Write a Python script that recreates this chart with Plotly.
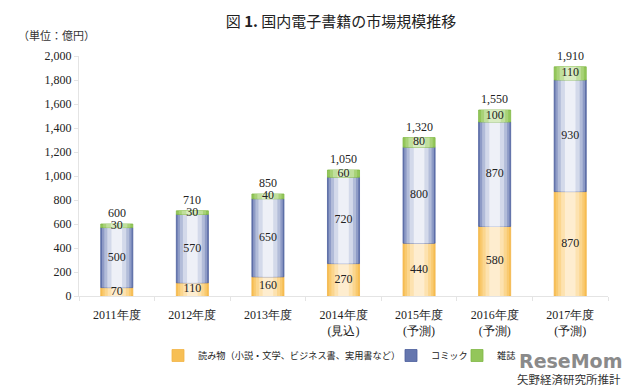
import numpy as np
import plotly.graph_objects as go

categories = ["2011年度", "2012年度", "2013年度", "2014年度<br>(見込)",
              "2015年度<br>(予測)", "2016年度<br>(予測)", "2017年度<br>(予測)"]
yomimono = [70, 110, 160, 270, 440, 580, 870]
comic = [500, 570, 650, 720, 800, 870, 930]
zasshi = [30, 30, 40, 60, 80, 100, 110]
totals = [600, 710, 850, 1050, 1320, 1550, 1910]
series_names = ["読み物（小説・文学、ビジネス書、実用書など）", "コミック", "雑誌"]
y_ticks = [0, 200, 400, 600, 800, 1000, 1200, 1400, 1600, 1800, 2000]

num_font = "Liberation Serif"
cjk_font = "Noto Sans CJK JP"

# gradient layers (outer -> inner): (width in category units, color)
layers = {
    0: ([0.424, 0.38, 0.32, 0.24, 0.14],
        ["#f7bf55", "#f9ca70", "#fbd68e", "#fde2af", "#feedcf"], "#f2b445"),
    1: ([0.424, 0.39, 0.33, 0.25, 0.14],
        ["#6576ae", "#8e9bc6", "#b2bcd9", "#d3d9ea", "#eef0f7"], "#4b5e9c"),
    2: ([0.424, 0.36, 0.28, 0.16],
        ["#93c65a", "#a8d277", "#c0df9c", "#d9ecc2"], "#7fb844"),
}
legend_ids = ["legend", "legend2", "legend3"]
legend_x = [158, 391, 457]

vals = [np.array(yomimono), np.array(comic), np.array(zasshi)]
bases = [np.zeros(7), np.array(yomimono), np.array(yomimono) + np.array(comic)]

fig = go.Figure()
for s in range(3):
    widths, colors, edge = layers[s]
    for i, (w, c) in enumerate(zip(widths, colors)):
        fig.add_trace(go.Bar(
            x=categories, y=vals[s], base=bases[s],
            width=[w] * 7,
            marker=dict(color=c, line=dict(color=edge if i == 0 else c, width=0.8 if i == 0 else 0)),
            name=series_names[s], legendgroup=series_names[s], legend=legend_ids[s],
            showlegend=(i == 0), hoverinfo="skip",
        ))
    fig.add_trace(go.Scatter(
        x=categories, y=bases[s] + vals[s] / 2, mode="text",
        text=[str(v) for v in vals[s]],
        textfont=dict(family=num_font, size=12, color="#222222"),
        showlegend=False, hoverinfo="skip", cliponaxis=False,
    ))

total_annotations = [
    dict(x=c, y=t, xref="x", yref="y", text=f"{t:,}", showarrow=False,
         xanchor="center", yanchor="bottom", yshift=2,
         font=dict(family=num_font, size=12, color="#222222"))
    for c, t in zip(categories, totals)
]

legend_common = dict(orientation="h", xref="container", yref="container",
                     y=1 - 341 / 388, xanchor="left", yanchor="top",
                     font=dict(family=cjk_font, size=9.2, color="#222222"),
                     bgcolor="rgba(0,0,0,0)")

fig.update_layout(
    width=640, height=388,
    margin=dict(l=79, r=32, t=56, b=92, autoexpand=False),
    paper_bgcolor="white", plot_bgcolor="white",
    barmode="overlay",
    title=dict(text="図 <b>1.</b> 国内電子書籍の市場規模推移", x=341 / 640, xanchor="center",
               y=1 - 22 / 388, yanchor="middle", xref="container", yref="container",
               font=dict(family=cjk_font, size=15, color="#222222")),
    legend=dict(x=legend_x[0] / 640, **legend_common),
    legend2=dict(x=legend_x[1] / 640, **legend_common),
    legend3=dict(x=legend_x[2] / 640, **legend_common),
    xaxis=dict(type="category", showline=True, linecolor="#e4e4e4", linewidth=1,
               ticks="outside", ticklen=4, tickcolor="#e4e4e4", tickson="boundaries",
               ticklabelstandoff=8,
               tickfont=dict(family=num_font, size=12, color="#222222"),
               showgrid=False, fixedrange=True),
    yaxis=dict(range=[0, 2000], tickvals=y_ticks, ticktext=[f"{v:,}" for v in y_ticks],
               showline=True, linecolor="#e4e4e4", linewidth=1,
               ticks="outside", ticklen=4, tickcolor="#e4e4e4",
               tickfont=dict(family=num_font, size=12, color="#222222"),
               showgrid=False, zeroline=False),
    annotations=total_annotations + [
        dict(text="（単位：億円）", xref="paper", yref="paper", x=(16 - 79) / 529,
             y=(296 - 35) / 240, xanchor="left", yanchor="middle", showarrow=False,
             font=dict(family=cjk_font, size=11, color="#333333")),
        dict(text="<b>ReseMom</b>", xref="paper", yref="paper", x=(624 - 79) / 529,
             y=(296 - 361) / 240, xanchor="right", yanchor="middle", showarrow=False,
             font=dict(family="DejaVu Sans", size=19, color="#8a8a8a")),
        dict(text="矢野経済研究所推計", xref="paper", yref="paper", x=(623 - 79) / 529,
             y=(296 - 379) / 240, xanchor="right", yanchor="middle", showarrow=False,
             font=dict(family=cjk_font, size=11.5, color="#333333")),
    ],
)

fig.write_html("out.html", config={"displayModeBar": False},
               post_script="document.body.style.margin='0px';document.body.style.overflow='hidden';")
